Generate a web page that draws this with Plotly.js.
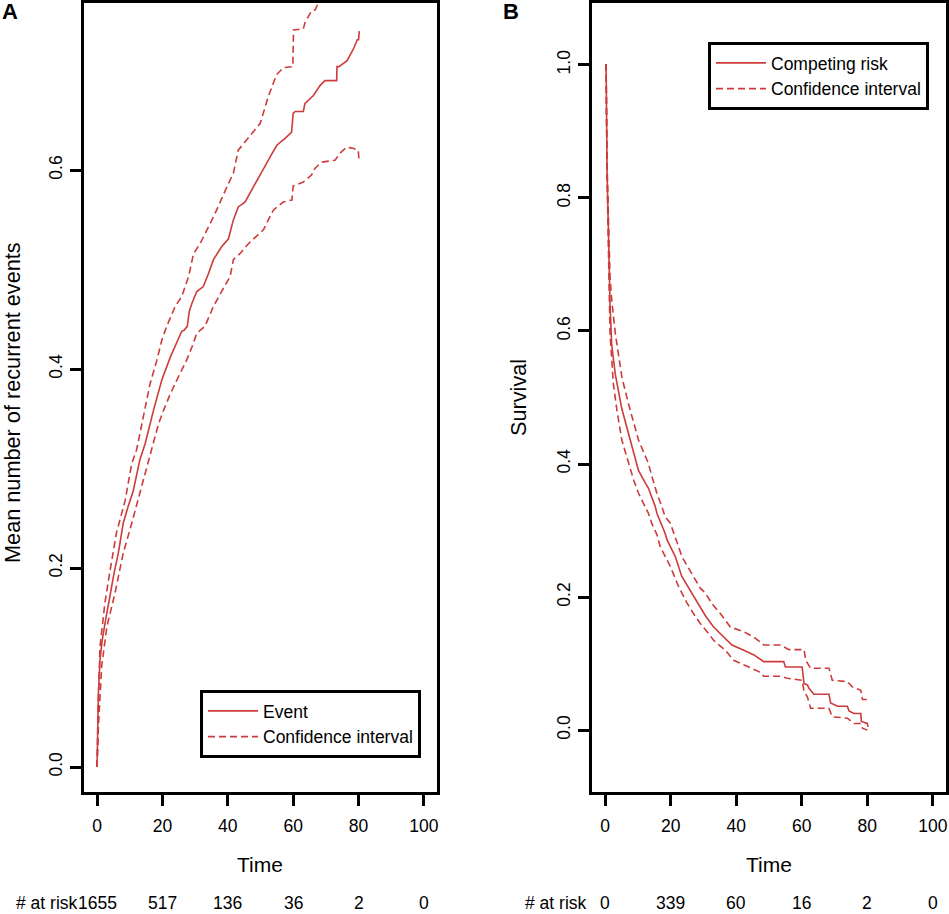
<!DOCTYPE html>
<html>
<head>
<meta charset="utf-8">
<script src="https://cdn.plot.ly/plotly-3.0.1.min.js"></script>
<style>
  html, body { margin: 0; padding: 0; background: #fff; }
  #chart { width: 949px; height: 914px; }
</style>
</head>
<body>
<div id="chart"></div>
<script>
// Panel A: mean number of recurrent events
const eventTime = [0, 0.2, 0.4, 0.9, 1.6, 2.4, 4.0, 5.2, 6.5, 8.0, 9.5, 11.1, 13.1, 14.7, 17.3, 19.8, 22.4, 24.5, 25.9, 26.6, 27.6, 28.2, 29.0, 30.5, 32.5, 34.1, 35.6, 38.1, 40.2, 41.7, 43.2, 44.5, 45.3, 48.3, 50.3, 51.9, 52.9, 55.0, 57.5, 59.5, 60.0, 60.6, 63.1, 63.6, 66.2, 68.2, 69.7, 73.3, 73.4, 74.0, 76.5, 77.5, 78.6, 79.6, 80.0, 80.2, 80.4];
const eventMean = [0, 0.04, 0.074, 0.108, 0.128, 0.144, 0.175, 0.195, 0.215, 0.245, 0.262, 0.278, 0.309, 0.325, 0.359, 0.389, 0.412, 0.428, 0.438, 0.439, 0.443, 0.458, 0.466, 0.478, 0.483, 0.496, 0.510, 0.523, 0.531, 0.550, 0.563, 0.566, 0.568, 0.586, 0.597, 0.607, 0.613, 0.625, 0.632, 0.638, 0.657, 0.659, 0.659, 0.667, 0.675, 0.685, 0.690, 0.690, 0.704, 0.704, 0.710, 0.716, 0.723, 0.731, 0.731, 0.739, 0.739];

const eventUpTime = [0, 0.3, 0.9, 2.4, 4.0, 5.9, 8.6, 10.6, 12.1, 14.2, 16.2, 18.3, 19.8, 21.3, 23.9, 25.9, 28.0, 29.5, 31.5, 34.1, 36.6, 39.7, 41.7, 43.2, 46.8, 49.9, 52.4, 54.9, 57.0, 59.9, 60.1, 63.1, 63.6, 65.6, 66.7, 68.2];
const eventUp = [0, 0.057, 0.121, 0.165, 0.198, 0.235, 0.268, 0.305, 0.319, 0.352, 0.385, 0.409, 0.429, 0.443, 0.463, 0.473, 0.493, 0.516, 0.526, 0.543, 0.560, 0.583, 0.597, 0.620, 0.634, 0.647, 0.674, 0.696, 0.703, 0.704, 0.741, 0.742, 0.748, 0.760, 0.761, 0.772];

const eventLowTime = [0, 0.4, 1.4, 3.0, 5.5, 8.0, 10.6, 13.1, 15.2, 16.2, 18.8, 20.4, 22.4, 24.4, 27.4, 29.0, 30.5, 33.0, 35.6, 38.6, 40.7, 41.7, 43.7, 46.3, 49.3, 50.9, 52.4, 54.0, 57.0, 59.6, 60.0, 63.1, 65.6, 66.7, 68.7, 72.8, 74.3, 76.3, 78.3, 79.9, 80.2];
const eventLow = [0, 0.040, 0.101, 0.141, 0.175, 0.215, 0.245, 0.275, 0.300, 0.312, 0.345, 0.359, 0.375, 0.389, 0.409, 0.422, 0.436, 0.443, 0.463, 0.481, 0.493, 0.510, 0.516, 0.526, 0.535, 0.540, 0.550, 0.560, 0.568, 0.570, 0.584, 0.588, 0.595, 0.602, 0.608, 0.610, 0.617, 0.623, 0.622, 0.620, 0.608];

// Panel B: survival with competing risk
const survTime = [0, 0.3, 0.6, 1.0, 1.5, 2.0, 3.1, 5.1, 7.1, 9.2, 10.2, 12.2, 13.2, 15.3, 15.8, 18.3, 18.9, 20.4, 21.4, 23.4, 26.5, 29.1, 30.6, 33.1, 36.2, 38.7, 42.3, 45.4, 48.4, 54.5, 55.0, 60.1, 60.7, 61.7, 62.2, 63.7, 68.3, 68.8, 70.9, 73.9, 74.4, 75.9, 78.0, 78.2, 80.0, 80.2];
const survValue = [1.0, 1.0, 0.84, 0.74, 0.64, 0.58, 0.535, 0.483, 0.446, 0.41, 0.39, 0.372, 0.364, 0.336, 0.326, 0.296, 0.286, 0.271, 0.261, 0.231, 0.206, 0.185, 0.172, 0.155, 0.140, 0.128, 0.120, 0.113, 0.103, 0.103, 0.095, 0.095, 0.070, 0.068, 0.063, 0.054, 0.054, 0.041, 0.036, 0.036, 0.029, 0.025, 0.025, 0.013, 0.010, 0.005];

const survUpTime = [0, 0.3, 0.6, 1.0, 1.5, 2.0, 3.1, 5.1, 7.1, 10.2, 12.2, 13.2, 14.3, 15.8, 17.3, 18.3, 19.9, 21.4, 22.4, 23.4, 26.5, 29.1, 30.6, 32.6, 35.2, 38.2, 42.3, 45.9, 48.4, 53.5, 56.1, 60.7, 61.2, 62.7, 68.3, 69.3, 73.9, 75.4, 78.0, 78.5, 80.0];
const survUp = [1.0, 1.0, 0.85, 0.76, 0.68, 0.647, 0.597, 0.531, 0.491, 0.436, 0.411, 0.401, 0.381, 0.356, 0.336, 0.321, 0.311, 0.291, 0.276, 0.261, 0.236, 0.213, 0.206, 0.190, 0.175, 0.155, 0.148, 0.138, 0.128, 0.128, 0.121, 0.121, 0.105, 0.093, 0.093, 0.075, 0.073, 0.065, 0.060, 0.046, 0.046];

const survLowTime = [0, 0.3, 0.6, 1.0, 1.5, 2.5, 3.6, 5.1, 7.1, 8.7, 10.2, 11.7, 13.2, 14.3, 15.8, 16.8, 19.9, 22.4, 25.0, 27.5, 29.1, 31.6, 33.1, 36.7, 39.2, 43.3, 46.9, 48.4, 53.5, 55.5, 60.1, 60.7, 61.7, 62.7, 68.3, 69.3, 73.9, 75.9, 78.0, 78.5, 80.0];
const survLow = [1.0, 1.0, 0.83, 0.72, 0.597, 0.521, 0.481, 0.436, 0.401, 0.376, 0.356, 0.341, 0.326, 0.310, 0.294, 0.276, 0.246, 0.216, 0.191, 0.171, 0.160, 0.145, 0.135, 0.120, 0.105, 0.096, 0.088, 0.081, 0.081, 0.078, 0.075, 0.058, 0.050, 0.033, 0.033, 0.020, 0.018, 0.010, 0.010, 0.003, 0.0];

// number at risk rows
const riskTimes = [0, 20, 40, 60, 80, 100];
const riskA = ["1655", "517", "136", "36", "2", "0"];
const riskB = ["0", "339", "60", "16", "2", "0"];

const W = 949, H = 914;
const red = "#cd3b3b";
const font = "Liberation Sans, Arial, Helvetica, sans-serif";
const px = v => v / W;
const py = v => 1 - v / H;

function curve(x, y, name, dash, xa, ya, legend, show) {
  return {
    x: x, y: y, name: name, type: "scatter", mode: "lines",
    xaxis: xa, yaxis: ya, legend: legend, showlegend: show,
    line: {color: red, width: 1.6, dash: dash}, hoverinfo: "skip"
  };
}

const dash = "7px,4px";
const data = [
  curve(eventTime, eventMean, "Event", "solid", "x", "y", "legend", true),
  curve(eventUpTime, eventUp, "Confidence interval", dash, "x", "y", "legend", true),
  curve(eventLowTime, eventLow, "Confidence interval", dash, "x", "y", "legend", false),
  curve(survTime, survValue, "Competing risk", "solid", "x2", "y2", "legend2", true),
  curve(survUpTime, survUp, "Confidence interval", dash, "x2", "y2", "legend2", true),
  curve(survLowTime, survLow, "Confidence interval", dash, "x2", "y2", "legend2", false)
];

function xAxis(d0, d1, anchor) {
  return {
    domain: [px(d0), px(d1)], anchor: anchor, range: [-4, 104],
    tickvals: riskTimes, ticks: "outside", ticklen: 11, tickwidth: 3, tickcolor: "#000",
    showline: true, mirror: true, linewidth: 3, linecolor: "#000",
    showgrid: false, zeroline: false, fixedrange: true,
    tickfont: {family: font, size: 17.5, color: "#000"}, ticklabelstandoff: 5
  };
}
function yAxis(range, tickvals, anchor) {
  return {
    domain: [py(792), py(3)], anchor: anchor, range: range,
    tickvals: tickvals, tickformat: ".1f", tickangle: -90,
    ticks: "outside", ticklen: 11, tickwidth: 3, tickcolor: "#000",
    showline: true, mirror: true, linewidth: 3, linecolor: "#000",
    showgrid: false, zeroline: false, fixedrange: true,
    tickfont: {family: font, size: 17.5, color: "#000"}, ticklabelstandoff: 1
  };
}

const annotations = [
  {text: "<b>A</b>", x: px(10), y: py(11), size: 22},
  {text: "<b>B</b>", x: px(511), y: py(11), size: 22},
  {text: "Time", x: px(260), y: py(864), size: 21},
  {text: "Time", x: px(769), y: py(864), size: 21},
  {text: "Mean number of recurrent events", x: px(12), y: py(403), size: 21.7, angle: -90},
  {text: "Survival", x: px(518), y: py(398), size: 21.7, angle: -90}
].map(a => ({
  text: a.text, xref: "paper", yref: "paper", x: a.x, y: a.y,
  xanchor: "center", yanchor: "middle", showarrow: false,
  textangle: a.angle || 0, font: {family: font, size: a.size, color: "#000"}
}));

// "# at risk" labels sit on the bottom edge of the page
[15, 524].forEach(x => {
  annotations.push({text: "# at risk", xref: "paper", yref: "paper", x: px(x), y: 0,
    xanchor: "left", yanchor: "bottom", showarrow: false, borderpad: 0,
    font: {family: font, size: 17.5, color: "#000"}});
});
riskTimes.forEach((t, i) => {
  annotations.push({text: riskA[i], xref: "x", yref: "paper", x: t, y: 0,
    xanchor: "center", yanchor: "bottom", showarrow: false, borderpad: 0,
    font: {family: font, size: 17.5, color: "#000"}});
  annotations.push({text: riskB[i], xref: "x2", yref: "paper", x: t, y: 0,
    xanchor: "center", yanchor: "bottom", showarrow: false, borderpad: 0,
    font: {family: font, size: 17.5, color: "#000"}});
});

function legendBox(x, y) {
  return {
    x: px(x), y: py(y), xanchor: "left", yanchor: "top",
    bgcolor: "#fff", bordercolor: "#000", borderwidth: 3,
    font: {family: font, size: 17.5, color: "#000"}, tracegroupgap: 0,
    itemwidth: 50
  };
}

const layout = {
  width: W, height: H,
  margin: {l: 0, r: 0, t: 0, b: 0},
  paper_bgcolor: "#fff", plot_bgcolor: "#fff",
  showlegend: true,
  xaxis: xAxis(84, 437, "y"),
  yaxis: yAxis([-0.0251, 0.768], [0, 0.2, 0.4, 0.6], "x"),
  xaxis2: xAxis(592, 946, "y2"),
  yaxis2: yAxis([-0.093, 1.093], [0, 0.2, 0.4, 0.6, 0.8, 1.0], "x2"),
  legend: legendBox(200, 690),
  legend2: legendBox(708, 42),
  annotations: annotations
};

Plotly.newPlot("chart", data, layout, {displayModeBar: false, staticPlot: true});
</script>
</body>
</html>
